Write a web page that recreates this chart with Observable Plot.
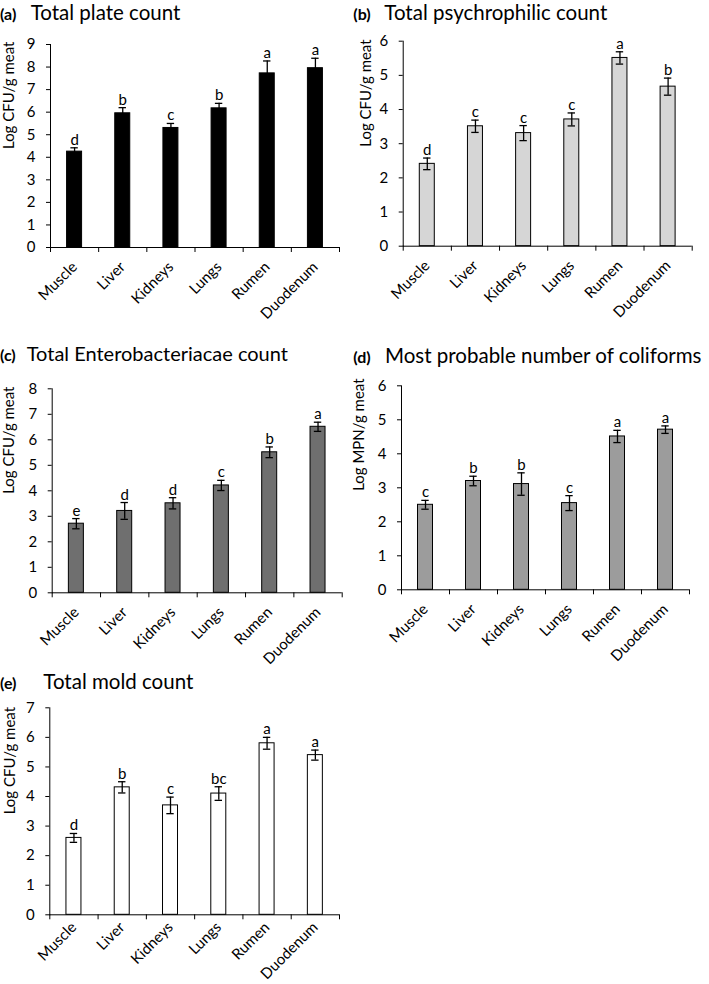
<!DOCTYPE html>
<html>
<head>
<meta charset="utf-8">
<script src="https://cdn.jsdelivr.net/npm/d3@7"></script>
<script src="https://cdn.jsdelivr.net/npm/@observablehq/plot@0.6"></script>
<style>
  html, body { margin: 0; padding: 0; background: #fff; }
  #fig { position: relative; width: 709px; height: 984px; font-family: Lato, sans-serif; color: #000; overflow: hidden; }
  .panel { position: absolute; }
  .tag { position: absolute; font-weight: bold; white-space: nowrap; }
  .ttl { position: absolute; white-space: nowrap; }
</style>
</head>
<body>
<div id="fig"></div>
<script>
// ---- data ----
const categories = ["Muscle", "Liver", "Kidneys", "Lungs", "Rumen", "Duodenum"];

const plateMean = [4.25, 5.95, 5.3, 6.17, 7.72, 7.95];
const plateErr = [0.17, 0.25, 0.2, 0.22, 0.55, 0.44];
const plateLetters = ["d", "b", "c", "b", "a", "a"];

const psychroMean = [2.41, 3.51, 3.31, 3.71, 5.51, 4.67];
const psychroErr = [0.17, 0.18, 0.22, 0.19, 0.18, 0.25];
const psychroLetters = ["d", "c", "c", "c", "a", "b"];

const enteroMean = [2.71, 3.21, 3.51, 4.21, 5.51, 6.51];
const enteroErr = [0.2, 0.33, 0.22, 0.2, 0.21, 0.18];
const enteroLetters = ["e", "d", "d", "c", "b", "a"];

const coliMean = [2.5, 3.2, 3.11, 2.55, 4.51, 4.71];
const coliErr = [0.13, 0.14, 0.33, 0.22, 0.18, 0.11];
const coliLetters = ["c", "b", "b", "c", "a", "a"];

const moldMean = [2.6, 4.31, 3.7, 4.1, 5.8, 5.4];
const moldErr = [0.15, 0.19, 0.28, 0.23, 0.2, 0.17];
const moldLetters = ["d", "b", "c", "bc", "a", "a"];

const yTicksA = [0, 1, 2, 3, 4, 5, 6, 7, 8, 9];
const yTicksB = [0, 1, 2, 3, 4, 5, 6];
const yTicksC = [0, 1, 2, 3, 4, 5, 6, 7, 8];
const yTicksD = [0, 1, 2, 3, 4, 5, 6];
const yTicksE = [0, 1, 2, 3, 4, 5, 6, 7];

const fig = document.getElementById("fig");

function title(tagX, textX, baseline, tag, text, size) {
  const t = document.createElement("div");
  t.className = "tag";
  t.style.left = tagX + "px";
  t.style.fontSize = "16px";
  t.style.lineHeight = "16px";
  t.style.top = (baseline - 0.887 * 16) + "px";
  t.textContent = tag;
  fig.appendChild(t);
  const s = document.createElement("div");
  s.className = "ttl";
  s.style.left = textX + "px";
  s.style.fontSize = size + "px";
  s.style.lineHeight = size + "px";
  s.style.top = (baseline - 0.887 * size) + "px";
  s.textContent = text;
  fig.appendChild(s);
}

function panel(o) {
  const data = categories.map((c, i) => ({c, v: o.values[i], e: o.errors[i], l: o.letters[i]}));
  const bw = (o.width - o.ml - o.mr) / categories.length;
  const barInset = (bw - 15) / 2;
  const capInset = bw / 2 - 3.7;
  const chart = Plot.plot({
    width: o.width,
    height: o.height,
    marginTop: o.mt,
    marginBottom: o.mb,
    marginLeft: o.ml,
    marginRight: o.mr,
    style: {fontFamily: "Lato, sans-serif", fontSize: "15px", color: "#000", background: "transparent", overflow: "visible"},
    x: {domain: categories, padding: 0, round: false},
    y: {domain: [0, o.ticks[o.ticks.length - 1]]},
    marks: [
      Plot.barY(data, {x: "c", y: "v", fill: o.fill, stroke: "#000", strokeWidth: 1, insetLeft: barInset, insetRight: barInset}),
      Plot.ruleX(data, {x: "c", y1: d => d.v - d.e, y2: d => d.v + d.e, stroke: "#000", strokeWidth: 1.3}),
      Plot.tickY(data, {x: "c", y: d => d.v + d.e, stroke: "#000", strokeWidth: 1.3, insetLeft: capInset, insetRight: capInset}),
      Plot.tickY(data, {x: "c", y: d => d.v - d.e, stroke: "#000", strokeWidth: 1.3, insetLeft: capInset, insetRight: capInset}),
      Plot.text(data, {x: "c", y: d => d.v + d.e, text: "l", lineAnchor: "bottom", dy: -3, fontSize: 15, fill: "#000"}),
      Plot.frame({anchor: "left", stroke: "#000"}),
      Plot.ruleY([0], {stroke: "#000"}),
      Plot.axisY({ticks: o.ticks, tickFormat: d3.format("d"), tickSize: 4, tickPadding: 11, label: null, fontSize: 15}),
      Plot.text([o.label], {text: d => d, frameAnchor: "left", rotate: -90, dx: -o.labelDist, dy: 3, fontSize: 15, fill: "#000"}),
      Plot.axisX({tickSize: 0, tickPadding: o.xPad, tickRotate: -45, label: null, fontSize: 15}),
      Plot.axisX({tickSize: 5, tickFormat: () => "", dx: -bw / 2, label: null}),
      Plot.axisX({ticks: [categories[categories.length - 1]], tickSize: 5, tickFormat: () => "", dx: bw / 2, label: null})
    ]
  });
  const div = document.createElement("div");
  div.className = "panel";
  div.style.left = o.left + "px";
  div.style.top = o.top + "px";
  div.style.width = o.width + "px";
  div.appendChild(chart);
  fig.appendChild(div);
}

title(0, 30.7, 20.4, "(a)", "Total plate count", 20.5);
title(353.3, 384.3, 20.5, "(b)", "Total psychrophilic count", 20.5);
title(0, 26.7, 360.7, "(c)", "Total Enterobacteriacae count", 20);
title(353.3, 385, 362.7, "(d)", "Most probable number of coliforms", 20.5);
title(0, 43.3, 689.3, "(e)", "Total mold count", 20.5);

panel({left: 0, top: 30, width: 345, height: 287, mt: 14, mb: 70, ml: 50, mr: 6, xPad: 17,
  ticks: yTicksA, label: "Log CFU/g meat", labelDist: 41,
  values: plateMean, errors: plateErr, letters: plateLetters, fill: "#000"});
panel({left: 340, top: 30, width: 369, height: 285.7, mt: 10.7, mb: 70, ml: 62.7, mr: 17.3, xPad: 17,
  ticks: yTicksB, label: "Log CFU/g meat", labelDist: 37,
  values: psychroMean, errors: psychroErr, letters: psychroLetters, fill: "#d6d6d6"});
panel({left: 0, top: 370, width: 345, height: 292.3, mt: 18.3, mb: 70, ml: 51.7, mr: 3.3, xPad: 17,
  ticks: yTicksC, label: "Log CFU/g meat", labelDist: 43,
  values: enteroMean, errors: enteroErr, letters: enteroLetters, fill: "#6f6f6f"});
panel({left: 340, top: 370, width: 369, height: 289.3, mt: 15.3, mb: 70, ml: 61, mr: 20, xPad: 17,
  ticks: yTicksD, label: "Log MPN/g meat", labelDist: 42,
  values: coliMean, errors: coliErr, letters: coliLetters, fill: "#9c9c9c"});
panel({left: 0, top: 690, width: 345, height: 294, mt: 17.3, mb: 69.7, ml: 49.3, mr: 6, xPad: 10,
  ticks: yTicksE, label: "Log CFU/g meat", labelDist: 40,
  values: moldMean, errors: moldErr, letters: moldLetters, fill: "#fff"});
</script>
</body>
</html>
